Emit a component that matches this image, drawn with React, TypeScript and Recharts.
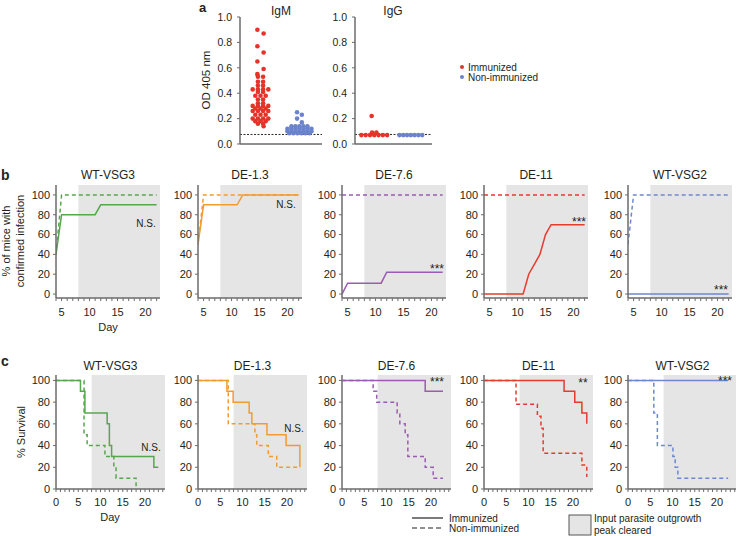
import React from 'react';
import {
  LineChart,
  Line,
  XAxis,
  YAxis,
  ReferenceArea,
  ReferenceLine,
  ScatterChart,
  Scatter,
} from 'recharts';

// ---- panel a: OD 405 nm per mouse ----
const igmImmunized = [
  0.9, 0.87, 0.77, 0.72, 0.65, 0.59, 0.55, 0.53, 0.53, 0.49, 0.49, 0.46, 0.46, 0.43, 0.43, 0.43, 0.43,
  0.41, 0.41, 0.38, 0.38, 0.38, 0.35, 0.35, 0.32, 0.32, 0.3, 0.3, 0.3, 0.3, 0.28, 0.28, 0.28, 0.26,
  0.26, 0.26, 0.26, 0.23, 0.23, 0.23, 0.2, 0.2, 0.2, 0.2, 0.18, 0.18, 0.18, 0.16, 0.16, 0.14,
];
const igmNonImmunized = [
  0.25, 0.23, 0.2, 0.17, 0.14, 0.14, 0.14, 0.14, 0.14, 0.12, 0.12, 0.12, 0.12, 0.12, 0.12, 0.12, 0.1,
  0.1, 0.1, 0.1, 0.1, 0.1, 0.1, 0.085, 0.085, 0.085, 0.085, 0.085, 0.085,
];
const iggImmunized = [0.22, 0.09, 0.09, 0.07, 0.07, 0.07, 0.07, 0.07, 0.07, 0.07];
const iggNonImmunized = [0.07, 0.07, 0.07, 0.07, 0.07, 0.07, 0.07];
const cutoff = 0.075;
const odTicks = [0, 0.2, 0.4, 0.6, 0.8, 1.0];

// ---- panels b and c ----
const strains = ['WT-VSG3', 'DE-1.3', 'DE-7.6', 'DE-11', 'WT-VSG2'];
const strainColors = ['#55a84c', '#f29b30', '#9a5cb2', '#e63b2e', '#6d87d1'];
const infectionStats = ['N.S.', 'N.S.', '***', '***', '***'];
const survivalStats = ['N.S.', 'N.S.', '***', '**', '***'];
const pctTicks = [0, 20, 40, 60, 80, 100];

type Pt = [number, number];

// b: % of mice with confirmed infection  [day, %]
const infVsg3Imm: Pt[] = [[4, 40], [5, 80], [11, 80], [12, 90], [22, 90]];
const infVsg3Non: Pt[] = [[4, 40], [5, 100], [22, 100]];
const inf13Imm: Pt[] = [[4, 50], [5, 90], [11, 90], [12, 100], [22, 100]];
const inf13Non: Pt[] = [[4, 50], [5, 100], [22, 100]];
const inf76Imm: Pt[] = [[4, 0], [5, 11], [11, 11], [12, 22], [22, 22]];
const inf76Non: Pt[] = [[4, 100], [22, 100]];
const inf11Imm: Pt[] = [[4, 0], [11, 0], [12, 20], [13, 30], [14, 40], [15, 60], [16, 70], [22, 70]];
const inf11Non: Pt[] = [[4, 100], [22, 100]];
const infVsg2Imm: Pt[] = [[4, 0], [22, 0]];
const infVsg2Non: Pt[] = [[4, 50], [5, 100], [22, 100]];

// c: % survival  [day, %]
const survVsg3Imm: Pt[] = [[0, 100], [5.5, 90], [6.5, 70], [11.5, 60], [12, 40], [12.5, 30], [22, 20], [23, 20]];
const survVsg3Non: Pt[] = [[0, 100], [6.3, 50], [7, 40], [11, 30], [13, 20], [13.5, 10], [18, 0]];
const surv13Imm: Pt[] = [[0, 100], [6.5, 90], [7.9, 80], [11.5, 70], [12.1, 60], [15.5, 50], [19.8, 40], [22.9, 20]];
const surv13Non: Pt[] = [[0, 100], [6.8, 60], [12.8, 50], [13.2, 40], [15.8, 30], [17.7, 20], [22.9, 20]];
const surv76Imm: Pt[] = [[0, 100], [18.7, 90], [22.7, 90]];
const surv76Non: Pt[] = [[0, 100], [7, 90], [7.8, 80], [12.4, 70], [13, 60], [14.2, 50], [14.8, 30], [18.7, 20], [20.5, 10], [22.7, 10]];
const surv11Imm: Pt[] = [[0, 100], [18, 90], [20.4, 80], [22, 70], [23.1, 60]];
const surv11Non: Pt[] = [[0, 100], [7.2, 78], [12, 67], [12.8, 56], [13.3, 33], [22, 22], [23.1, 11]];
const survVsg2Imm: Pt[] = [[0, 100], [22.5, 100]];
const survVsg2Non: Pt[] = [[0, 100], [5.8, 70], [6.6, 40], [10.1, 30], [10.6, 20], [11.2, 10], [22.5, 10]];

const infectionImm = [infVsg3Imm, inf13Imm, inf76Imm, inf11Imm, infVsg2Imm];
const infectionNon = [infVsg3Non, inf13Non, inf76Non, inf11Non, infVsg2Non];
const survivalImm = [survVsg3Imm, surv13Imm, surv76Imm, surv11Imm, survVsg2Imm];
const survivalNon = [survVsg3Non, surv13Non, surv76Non, surv11Non, survVsg2Non];

const RED = '#e5332a';
const BLUE = '#6a83cc';
const AXIS = '#6b6b6b';
const INK = '#231f20';
const SHADE = '#e5e5e5';
const FONT = '"Liberation Sans", Arial, Helvetica, sans-serif';

// layout (pixels)
const panelX = [56, 198, 342, 484, 628];
const infStatPos = [[146, 226.5], [286, 207.5], [437, 273], [579, 226], [721, 294]];
const survStatPos = [[151, 450.5], [294, 431.5], [437, 386], [583, 387], [725, 385]];

const range = (a: number, b: number) => Array.from({ length: b - a + 1 }, (_, i) => a + i);
const toRows = (pts: Pt[]) => pts.map(([day, value]) => ({ day, value }));

interface CurveProps {
  axisX: number;
  plotTop: number;
  plotW: number;
  plotH: number;
  xDomain: [number, number];
  yDomain: [number, number];
  xTicks: number[];
  labelGap: number;
  step: boolean;
  imm: Pt[];
  non: Pt[];
  color: string;
}

const CurvePanel = (p: CurveProps) => {
  const YW = 40;
  const T = 8;
  const R = 3;
  const XH = 26;
  const curve = p.step ? 'stepAfter' : 'linear';
  return (
    <div style={{ position: 'absolute', left: p.axisX - YW, top: p.plotTop - T }}>
      <LineChart
        width={YW + p.plotW + R}
        height={T + p.plotH + XH}
        margin={{ top: T, right: R, bottom: 0, left: 0 }}
      >
        <ReferenceArea
          x1={8}
          x2={p.xDomain[1]}
          y1={p.yDomain[0]}
          y2={p.yDomain[1]}
          fill={SHADE}
          fillOpacity={1}
          stroke="none"
        />
        <XAxis
          type="number"
          dataKey="day"
          domain={p.xDomain}
          allowDataOverflow
          ticks={p.xTicks}
          interval={0}
          tickFormatter={(v: number) => (v % 5 === 0 ? String(v) : '')}
          height={XH}
          tickSize={3}
          tickMargin={p.labelGap}
          axisLine={{ stroke: AXIS, strokeWidth: 1.5 }}
          tickLine={{ stroke: AXIS }}
          tick={{ fill: INK, fontSize: 11 }}
        />
        <YAxis
          type="number"
          domain={p.yDomain}
          allowDataOverflow
          ticks={pctTicks}
          interval={0}
          width={YW}
          tickSize={3}
          tickMargin={3}
          axisLine={{ stroke: AXIS, strokeWidth: 1.5 }}
          tickLine={{ stroke: AXIS }}
          tick={{ fill: INK, fontSize: 11 }}
        />
        <Line
          data={toRows(p.non)}
          dataKey="value"
          type={curve}
          stroke={p.color}
          strokeWidth={1.5}
          strokeDasharray="4 3"
          dot={false}
          isAnimationActive={false}
        />
        <Line
          data={toRows(p.imm)}
          dataKey="value"
          type={curve}
          stroke={p.color}
          strokeWidth={1.5}
          dot={false}
          isAnimationActive={false}
        />
      </LineChart>
    </div>
  );
};

// points with the same value sit side by side in a row, centred on the group
const columnRows = (values: number[], center: number, step: number) => {
  const groups = new Map<string, number[]>();
  values.forEach((v) => {
    const k = v.toFixed(3);
    if (!groups.has(k)) groups.set(k, []);
    groups.get(k)!.push(v);
  });
  const out: { x: number; y: number }[] = [];
  let flip = 1;
  groups.forEach((vs) => {
    // single points are nudged left/right alternately so the column does not look like a rope
    const nudge = vs.length === 1 ? (flip *= -1) * step * 0.6 : 0;
    vs.forEach((v, i) => out.push({ x: center + nudge + (i - (vs.length - 1) / 2) * step, y: v }));
  });
  return out;
};

const dot = (props: any) => <circle cx={props.cx} cy={props.cy} r={2.3} fill={props.fill} />;

interface OdProps {
  axisX: number;
  plotW: number;
  imm: number[];
  non: number[];
  immGap: number;
  nonGap: number;
}

const OdPanel = ({ axisX, plotW, imm, non, immGap, nonGap }: OdProps) => {
  const YW = 40;
  const T = 10;
  const R = 3;
  const XH = 10;
  const plotTop = 17;
  const plotH = 127;
  const unit = plotW / 2;
  return (
    <div style={{ position: 'absolute', left: axisX - YW, top: plotTop - T }}>
      <ScatterChart width={YW + plotW + R} height={T + plotH + XH} margin={{ top: T, right: R, bottom: 0, left: 0 }}>
        <XAxis
          type="number"
          dataKey="x"
          domain={[0, 2]}
          allowDataOverflow
          tick={false}
          tickLine={false}
          height={XH}
          axisLine={{ stroke: AXIS, strokeWidth: 1.5 }}
        />
        <YAxis
          type="number"
          dataKey="y"
          domain={[0, 1]}
          allowDataOverflow
          ticks={odTicks}
          interval={0}
          tickFormatter={(v: number) => v.toFixed(1)}
          width={YW}
          tickSize={3}
          tickMargin={5}
          axisLine={{ stroke: AXIS, strokeWidth: 1.5 }}
          tickLine={{ stroke: AXIS }}
          tick={{ fill: INK, fontSize: 10.5 }}
        />
        <ReferenceLine y={cutoff} stroke="#111" strokeWidth={0.9} strokeDasharray="2 1.5" />
        <Scatter data={columnRows(imm, 0.5, immGap / unit)} fill={RED} shape={dot} isAnimationActive={false} />
        <Scatter data={columnRows(non, 1.45, nonGap / unit)} fill={BLUE} shape={dot} isAnimationActive={false} />
      </ScatterChart>
    </div>
  );
};

const App = () => {
  const bW = 104;
  const cW = 109;
  return (
    <div
      style={{
        position: 'absolute',
        left: 0,
        top: 0,
        width: 736,
        height: 536,
        background: '#fff',
        fontFamily: FONT,
        overflow: 'hidden',
      }}
    >
      <OdPanel axisX={240} plotW={82} imm={igmImmunized} non={igmNonImmunized} immGap={5.2} nonGap={4} />
      <OdPanel axisX={355} plotW={77} imm={iggImmunized} non={iggNonImmunized} immGap={4.3} nonGap={3.8} />

      {strains.map((s, i) => (
        <CurvePanel
          key={`b-${s}`}
          axisX={panelX[i]}
          plotTop={185}
          plotW={bW}
          plotH={113}
          xDomain={[4, 22.6]}
          yDomain={[-4, 110]}
          xTicks={range(4, 22)}
          labelGap={7}
          step={false}
          imm={infectionImm[i]}
          non={infectionNon[i]}
          color={strainColors[i]}
        />
      ))}

      {strains.map((s, i) => (
        <CurvePanel
          key={`c-${s}`}
          axisX={panelX[i]}
          plotTop={375}
          plotW={cW}
          plotH={114}
          xDomain={[0, 24.5]}
          yDomain={[0, 105]}
          xTicks={range(0, 24)}
          labelGap={6}
          step
          imm={survivalImm[i]}
          non={survivalNon[i]}
          color={strainColors[i]}
        />
      ))}

      <svg
        width={736}
        height={536}
        style={{ position: 'absolute', left: 0, top: 0, pointerEvents: 'none' }}
        fontFamily={FONT}
        fill={INK}
      >
        {/* panel a */}
        <text x={199} y={12} fontSize={13} fontWeight="bold">a</text>
        <text x={281} y={15} fontSize={12} textAnchor="middle">IgM</text>
        <text x={393} y={15} fontSize={12} textAnchor="middle">IgG</text>
        <text x={210} y={80} fontSize={11.5} textAnchor="middle" transform="rotate(-90 210 80)">OD 405 nm</text>
        <circle cx={462} cy={67} r={2} fill={RED} />
        <text x={468} y={70.5} fontSize={10}>Immunized</text>
        <circle cx={462} cy={77} r={2} fill={BLUE} />
        <text x={468} y={80.5} fontSize={10}>Non-immunized</text>

        {/* panel b */}
        <text x={1} y={180} fontSize={14} fontWeight="bold">b</text>
        <text x={10} y={241} fontSize={11} textAnchor="middle" transform="rotate(-90 10 241)">% of mice with</text>
        <text x={24} y={241} fontSize={11} textAnchor="middle" transform="rotate(-90 24 241)">confirmed infection</text>
        {strains.map((s, i) => (
          <text key={`bt-${s}`} x={panelX[i] + bW / 2} y={179} fontSize={12} textAnchor="middle">{s}</text>
        ))}
        {infectionStats.map((t, i) => (
          <text key={`bs-${i}`} x={infStatPos[i][0]} y={infStatPos[i][1]} fontSize={t === 'N.S.' ? 10 : 12} textAnchor="middle">{t}</text>
        ))}
        <text x={108} y={331} fontSize={11} textAnchor="middle">Day</text>

        {/* panel c */}
        <text x={1} y={366} fontSize={14} fontWeight="bold">c</text>
        <text x={25} y={432} fontSize={11} textAnchor="middle" transform="rotate(-90 25 432)">% Survival</text>
        {strains.map((s, i) => (
          <text key={`ct-${s}`} x={panelX[i] + cW / 2} y={370} fontSize={12} textAnchor="middle">{s}</text>
        ))}
        {survivalStats.map((t, i) => (
          <text key={`cs-${i}`} x={survStatPos[i][0]} y={survStatPos[i][1]} fontSize={t === 'N.S.' ? 10 : 12} textAnchor="middle">{t}</text>
        ))}
        <text x={110} y={521} fontSize={11} textAnchor="middle">Day</text>

        {/* bottom legend */}
        <line x1={412} y1={518} x2={443} y2={518} stroke={INK} strokeWidth={1.2} />
        <text x={449} y={521.5} fontSize={10}>Immunized</text>
        <line x1={412} y1={528} x2={443} y2={528} stroke={INK} strokeWidth={1.2} strokeDasharray="5 3" />
        <text x={449} y={531.5} fontSize={10}>Non-immunized</text>
        <rect x={569} y={515} width={22} height={20} fill={SHADE} stroke="#555" strokeWidth={1} />
        <text x={594} y={522} fontSize={10}>Input parasite outgrowth</text>
        <text x={594} y={534} fontSize={10}>peak cleared</text>
      </svg>
    </div>
  );
};

export default App;
